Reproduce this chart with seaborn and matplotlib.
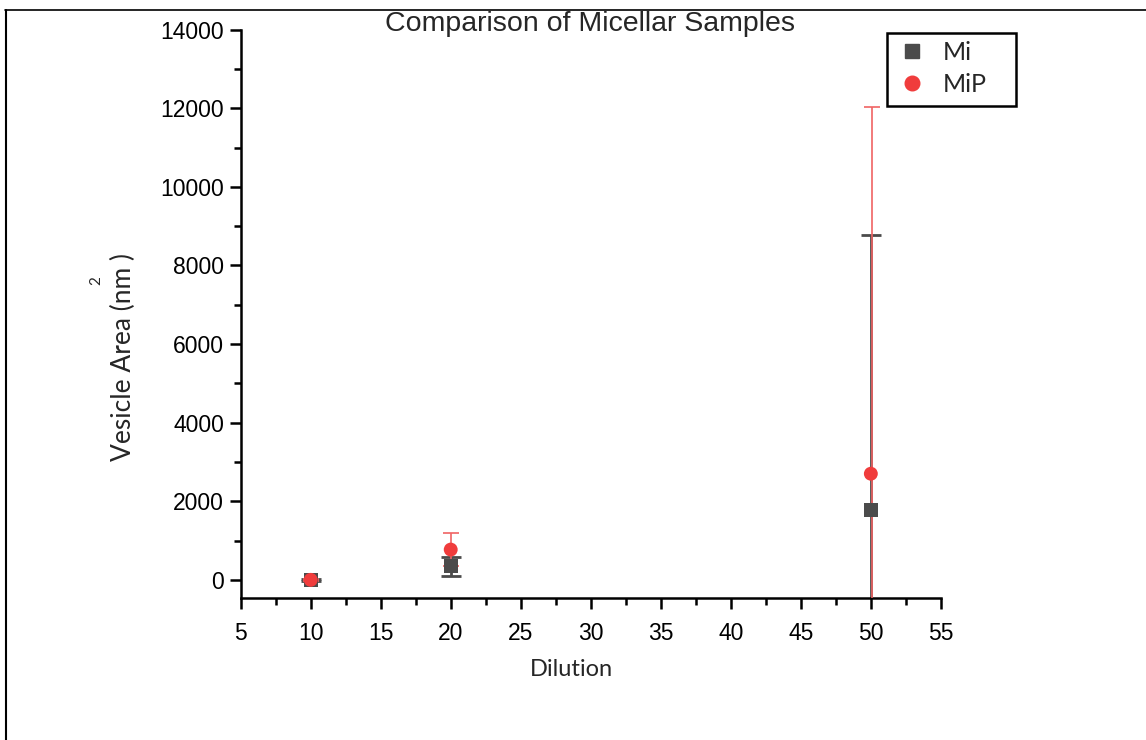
import matplotlib
matplotlib.use("Agg")
import matplotlib.pyplot as plt
from matplotlib.lines import Line2D
from matplotlib.patches import Rectangle
from matplotlib.ticker import MultipleLocator
import pandas as pd
import seaborn as sns

dilution = [10, 20, 50]
mi_area = [0, 345, 1780]
mi_err = [20, 240, 7000]
mip_area = [0, 770, 2700]
mip_err = [30, 430, 9320]

samples = ["Mi", "MiP"]
colors = {"Mi": "#4b4b4b", "MiP": "#f03c3c"}
bar_colors = {"Mi": "#4b4b4b", "MiP": "#f06464"}


def make_frame():
    rows = []
    for name, area, err in (("Mi", mi_area, mi_err), ("MiP", mip_area, mip_err)):
        for d, a, e in zip(dilution, area, err):
            rows.append({"Dilution": d, "Area": a, "Err": e, "Sample": name})
    return pd.DataFrame(rows)


def px(x, y):
    # pixel position (from top-left) -> figure fraction
    return x / 1146, 1 - y / 740


def plot_all(data):
    fig = plt.figure(figsize=(11.46, 7.40), dpi=100)
    ax = fig.add_axes([0.210, 0.192, 0.611, 0.768])

    # error bars first, points on top
    sub = data[data.Sample == "Mi"]
    ax.errorbar(sub.Dilution, sub.Area, yerr=sub.Err, fmt="none",
                ecolor=bar_colors["Mi"], elinewidth=2, capsize=7, capthick=2,
                zorder=2)
    sub = data[data.Sample == "MiP"]
    ax.errorbar(sub.Dilution + 0.05, sub.Area, yerr=sub.Err, fmt="none",
                ecolor=bar_colors["MiP"], elinewidth=1.2, capsize=5.5,
                capthick=1.2, zorder=3)

    sns.scatterplot(x="Dilution", y="Area", data=data, hue="Sample",
                    style="Sample", markers={"Mi": "s", "MiP": "o"},
                    palette=colors, s=100, linewidth=0, ax=ax, zorder=4,
                    legend=False)

    ax.set_xlim(5, 55)
    ax.set_ylim(-460, 14000)
    ax.xaxis.set_major_locator(MultipleLocator(5))
    ax.xaxis.set_minor_locator(MultipleLocator(2.5))
    ax.yaxis.set_major_locator(MultipleLocator(2000))
    ax.yaxis.set_minor_locator(MultipleLocator(1000))
    for side in ("top", "right"):
        ax.spines[side].set_visible(False)
    for side in ("left", "bottom"):
        ax.spines[side].set_linewidth(1.8)
        ax.spines[side].set_color("black")
    ax.tick_params(which="major", direction="out", length=8, width=1.8,
                   labelsize=16.5, colors="black")
    ax.tick_params(which="minor", direction="out", length=5, width=1.8,
                   colors="black")
    ax.tick_params(axis="x", which="major", pad=9)
    ax.tick_params(axis="y", which="major", pad=4)
    for lab in ax.get_xticklabels() + ax.get_yticklabels():
        lab.set_fontfamily("Liberation Sans")

    ax.set_xlabel("Dilution", fontfamily="Lato", fontsize=17)
    ax.xaxis.set_label_coords(0.472, -0.107)
    ax.set_ylabel("Vesicle Area (nm )", fontfamily="Lato", fontsize=19)
    ax.yaxis.set_label_coords(-0.150, 0.424)
    fig.text(*px(96, 281), "2", fontfamily="Lato", fontsize=11,
             rotation=90, ha="center", va="center")

    fig.text(*px(590, 24), "Comparison of Micellar Samples",
             fontfamily="Liberation Sans", fontsize=20.5, ha="center",
             va="center")

    handles = [
        Line2D([], [], marker="s", color=colors["Mi"], linestyle="none",
               markersize=10),
        Line2D([], [], marker="o", color=colors["MiP"], linestyle="none",
               markersize=10.5),
    ]
    fig.legend(handles, samples, loc="upper left",
               bbox_to_anchor=px(892, 36), borderaxespad=0, frameon=False,
               borderpad=0.2, handletextpad=0.64, labelspacing=0.35,
               handlelength=1.2, prop={"family": "Lato", "size": 18})
    x0, y1 = px(887, 33)
    x1, y0 = px(1016, 106)
    fig.add_artist(Rectangle((x0, y0), x1 - x0, y1 - y0,
                             transform=fig.transFigure, fill=False,
                             edgecolor="black", linewidth=1.8))

    # page / cell border lines
    fig.add_artist(Line2D([5 / 1146, 1.0], [1 - 10 / 740, 1 - 10 / 740],
                          color="black", linewidth=1.2))
    fig.add_artist(Line2D([6 / 1146, 6 / 1146], [0.0, 1 - 10 / 740],
                          color="black", linewidth=1.5))

    fig.savefig("out.png", dpi=100)
    plt.close(fig)


if __name__ == "__main__":
    sns.set_style("ticks")
    plot_all(make_frame())
